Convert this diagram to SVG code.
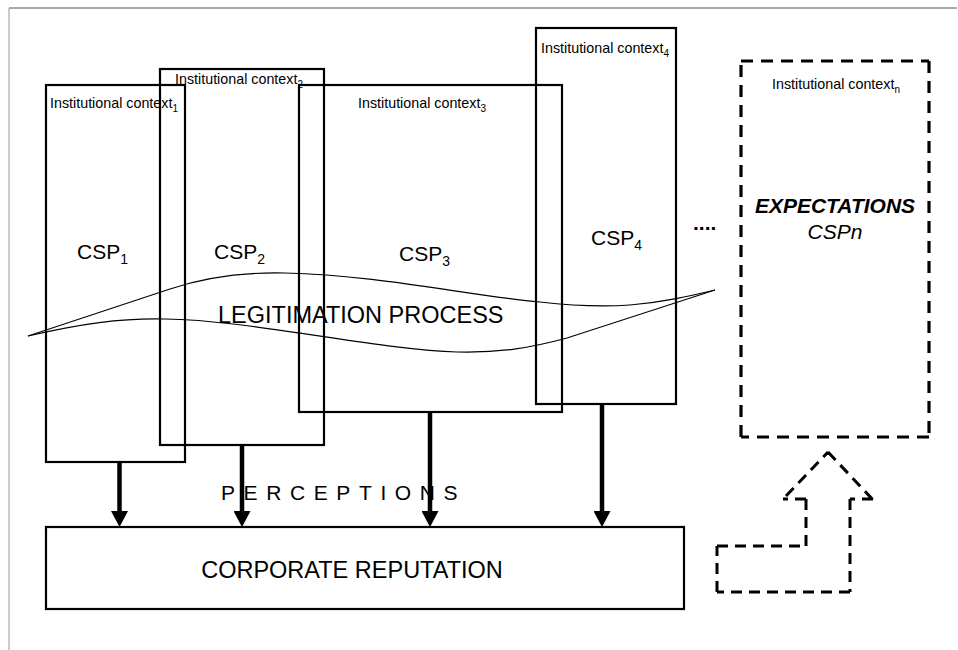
<svg xmlns="http://www.w3.org/2000/svg" width="958" height="650" viewBox="0 0 958 650">
<style>
  text { font-family: "Liberation Sans", Arial, sans-serif; fill: #000; }
  .box { fill: none; stroke: #000; stroke-width: 2.2; }
  .dash { fill: none; stroke: #000; stroke-width: 3.2; stroke-dasharray: 12 8; }
  .ctx { font-size: 14.3px; }
  .sub { font-size: 10px; }
  .csp { font-size: 21px; }
  .cspsub { font-size: 14px; }
  .curve { fill: none; stroke: #000; stroke-width: 1.1; }
  .arrow { stroke: #000; stroke-width: 4.5; fill: none; marker-end: url(#head); }
</style>
<defs>
  <marker id="head" viewBox="0 0 16 17" refX="4" refY="8.5" markerWidth="16" markerHeight="17" markerUnits="userSpaceOnUse" orient="auto">
    <path d="M0,0 L16,8.5 L0,17 z" fill="#000"/>
  </marker>
</defs>
<rect width="958" height="650" fill="#fff"/>
<g id="frame">
  <line x1="9" y1="8" x2="957" y2="8" stroke="#555" stroke-width="1"/>
  <line x1="9" y1="8" x2="9" y2="650" stroke="#999" stroke-width="1"/>
</g>
<g id="ctx1">
  <rect class="box" x="46" y="85" width="139" height="377"/>
  <text class="ctx" x="50" y="108">Institutional context<tspan class="sub" dy="4">1</tspan></text>
  <text class="csp" x="77" y="259">CSP<tspan class="cspsub" dy="5">1</tspan></text>
</g>
<g id="ctx2">
  <rect class="box" x="160" y="69" width="164" height="376"/>
  <text class="ctx" x="175" y="84">Institutional context<tspan class="sub" dy="4">2</tspan></text>
  <text class="csp" x="214" y="259">CSP<tspan class="cspsub" dy="5">2</tspan></text>
</g>
<g id="ctx3">
  <rect class="box" x="299" y="85" width="263" height="327"/>
  <text class="ctx" x="358" y="108">Institutional context<tspan class="sub" dy="4">3</tspan></text>
  <text class="csp" x="399" y="261">CSP<tspan class="cspsub" dy="5">3</tspan></text>
</g>
<g id="ctx4">
  <rect class="box" x="536" y="28" width="140" height="376"/>
  <text class="ctx" x="541" y="53">Institutional context<tspan class="sub" dy="4">4</tspan></text>
  <text class="csp" x="591" y="245">CSP<tspan class="cspsub" dy="5">4</tspan></text>
</g>
<g id="dots">
  <text x="693" y="230" font-size="21" font-weight="bold">....</text>
</g>
<g id="ctxn">
  <path class="dash" d="M741,61 H929 M929,61 V437 M929,437 H741 M741,437 V61"/>
  <text class="ctx" x="772" y="89">Institutional context<tspan class="sub" dy="4">n</tspan></text>
  <text x="835" y="213" font-size="21" font-weight="bold" font-style="italic" text-anchor="middle">EXPECTATIONS</text>
  <text x="835" y="239" font-size="21" font-style="italic" text-anchor="middle">CSPn</text>
</g>
<g id="legitimation">
  <path class="curve" d="M28,336 L170,289 C200,279 240,272 285,273 C380,275 470,296 540,302 C575,306 600,307 630,305 C665,302 690,296 715,290"/>
  <path class="curve" d="M28,336 C80,324 120,318 165,319 C250,320 380,350 457,352 C500,353 530,348 567,338 L715,290"/>
  <text x="218" y="323" font-size="23.5">LEGITIMATION PROCESS</text>
</g>
<g id="perceptions">
  <text x="221" y="500" font-size="21" letter-spacing="8.6">PERCEPTIONS</text>
</g>
<g id="reputation">
  <rect class="box" x="46" y="527" width="638" height="82"/>
  <text x="352" y="578" font-size="23.5" text-anchor="middle">CORPORATE REPUTATION</text>
</g>
<g id="connectors">
  <line class="arrow" x1="119.5" y1="462" x2="119.5" y2="515"/>
  <line class="arrow" x1="242" y1="445" x2="242" y2="515"/>
  <line class="arrow" x1="430" y1="412" x2="430" y2="515"/>
  <line class="arrow" x1="602" y1="404" x2="602" y2="515"/>
</g>
<g id="feedback-arrow">
  <path d="M717,546 H806 M806,546 V499 M806,499 H783 M786,496 L828,452 M828,452 L875,502 M873,499 H850 M850,499 V592 M850,592 H717 M717,592 V546" fill="none" stroke="#000" stroke-width="3" stroke-dasharray="11 7"/>
</g>
</svg>
